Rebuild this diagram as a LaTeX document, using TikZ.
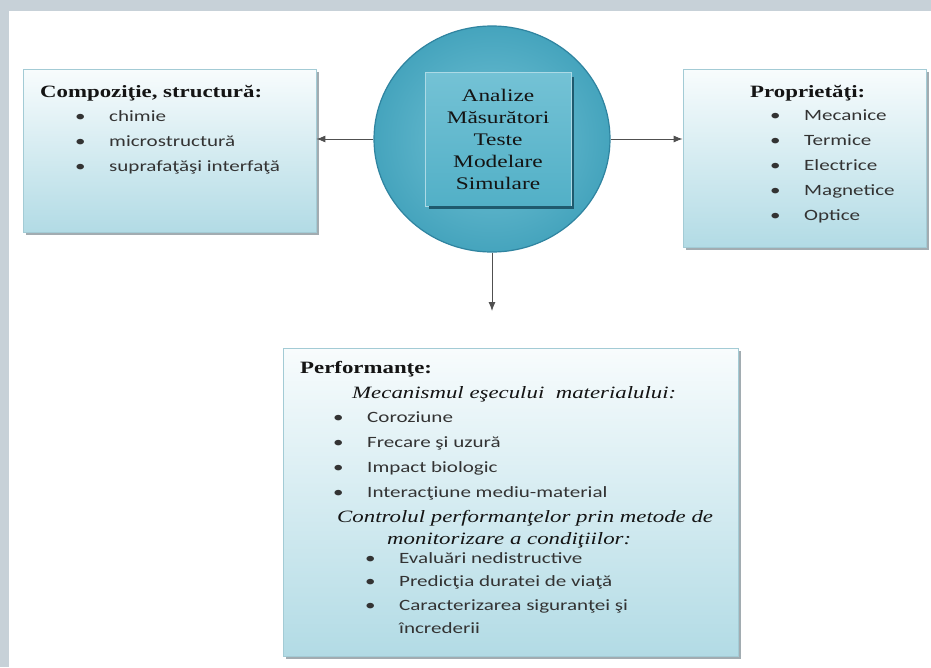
\documentclass[tikz,border=0pt]{standalone}
\usepackage{fontspec}
\setmainfont{Liberation Serif}[FakeStretch=1.32]
\newfontfamily\bodyfont{Carlito}[FakeStretch=1.34]
\usetikzlibrary{arrows.meta,shadows,shapes.geometric}

\definecolor{bandgray}{HTML}{C7D1D8}
\definecolor{paneltop}{HTML}{F8FCFD}
\definecolor{panelbot}{HTML}{B2DBE5}
\definecolor{panelrim}{HTML}{A3CBD5}
\definecolor{panelshade}{HTML}{98A4A9}
\definecolor{ballin}{HTML}{74C3D6}
\definecolor{ballout}{HTML}{45A4BD}
\definecolor{ballrim}{HTML}{2F84A0}
\definecolor{sqtop}{HTML}{74C2D5}
\definecolor{sqbot}{HTML}{52B0C7}
\definecolor{sqedge}{HTML}{1F5A6E}
\definecolor{ink}{HTML}{141414}
\definecolor{inkgray}{HTML}{333333}
\definecolor{arrowgray}{HTML}{505050}

\newcommand{\bul}{\makebox[34pt][l]{\textbullet}}

\tikzset{
  panel/.style={rectangle, draw=panelrim, line width=0.8pt, top color=paneltop, bottom color=panelbot,
    drop shadow={shadow xshift=2.5pt, shadow yshift=-2.5pt, fill=panelshade, opacity=0.9}},
  ttl/.style={anchor=base west, inner sep=0pt, text=ink, font=\fontsize{17.3}{20}\selectfont\bfseries},
  itm/.style={anchor=base west, inner sep=0pt, text=inkgray, font=\bodyfont\fontsize{15.7}{19}\selectfont},
  ital/.style={anchor=base west, inner sep=0pt, text=ink, font=\fontsize{17.3}{20}\selectfont\itshape},
  arr/.style={draw=arrowgray, line width=0.9pt, -{Latex[length=9pt,width=7pt]}}
}

\begin{document}
\begin{tikzpicture}[x=1pt,y=-1pt]
 \useasboundingbox (0,0) rectangle (931,667);
 \fill[white] (0,0) rectangle (931,667);
 \fill[bandgray] (0,0) rectangle (931,11);
 \fill[bandgray] (0,0) rectangle (9,667);

 \node[panel, minimum width=293pt, minimum height=163pt] (compbox) at (169.5,150.5) {};
 \node[panel, minimum width=243pt, minimum height=178pt] (propbox) at (804.5,158) {};
 \node[panel, minimum width=455pt, minimum height=308pt] (perfbox) at (510.5,502) {};

 \node[ellipse, draw=ballrim, line width=1.2pt, inner color=ballin, outer color=ballout,
   minimum width=236pt, minimum height=226pt] (ball) at (492,139) {};
 \node[rectangle, draw=sqtop!60!white, line width=0.5pt, top color=sqtop, bottom color=sqbot,
   minimum width=146pt, minimum height=134pt, align=center, text=ink,
   font=\fontsize{17.7}{22}\selectfont] (methods) at (498,139)
   {Analize\\Măsurători\\Teste\\Modelare\\Simulare};
 \draw[sqedge, line width=2.5pt] ([xshift=1.5pt,yshift=-5pt]methods.north east)
   -- ([xshift=1.5pt,yshift=-1.2pt]methods.south east) -- ([xshift=4pt,yshift=-1.2pt]methods.south west);

 \coordinate (drop) at (492,311);
 \draw[arr] (ball.west) -- (ball.west -| compbox.east);
 \draw[arr] (ball.east) -- (ball.east -| propbox.west);
 \draw[arr] (ball.south) -- (drop);

 \node[ttl] (comptitle) at (40,97) {Compoziţie, structură:};
 \node[itm] (comp1) at (75,121) {\bul chimie};
 \node[itm] (comp2) at (75,146) {\bul microstructură};
 \node[itm] (comp3) at (75,171) {\bul suprafaţăşi interfaţă};

 \node[ttl] (proptitle) at (750,97) {Proprietăţi:};
 \node[itm] (prop1) at (770,120) {\bul Mecanice};
 \node[itm] (prop2) at (770,145) {\bul Termice};
 \node[itm] (prop3) at (770,170) {\bul Electrice};
 \node[itm] (prop4) at (770,195) {\bul Magnetice};
 \node[itm] (prop5) at (770,220) {\bul Optice};

 \node[ttl] (perftitle) at (300,373) {Performanţe:};
 \node[ital] (failhead) at (352,398) {Mecanismul eşecului \ materialului:};
 \node[itm] (fail1) at (333,422) {\bul Coroziune};
 \node[itm] (fail2) at (333,447) {\bul Frecare şi uzură};
 \node[itm] (fail3) at (333,472) {\bul Impact biologic};
 \node[itm] (fail4) at (333,497) {\bul Interacţiune mediu-material};
 \node[ital] (ctrlhead1) at (337,522) {Controlul performanţelor prin metode de};
 \node[ital] (ctrlhead2) at (387,544) {monitorizare a condiţiilor:};
 \node[itm] (ctrl1) at (365,563) {\bul Evaluări nedistructive};
 \node[itm] (ctrl2) at (365,586) {\bul Predicţia duratei de viaţă};
 \node[itm] (ctrl3) at (365,610) {\bul Caracterizarea siguranţei şi};
 \node[itm] (ctrl3b) at (399,633) {încrederii};
\end{tikzpicture}
\end{document}
